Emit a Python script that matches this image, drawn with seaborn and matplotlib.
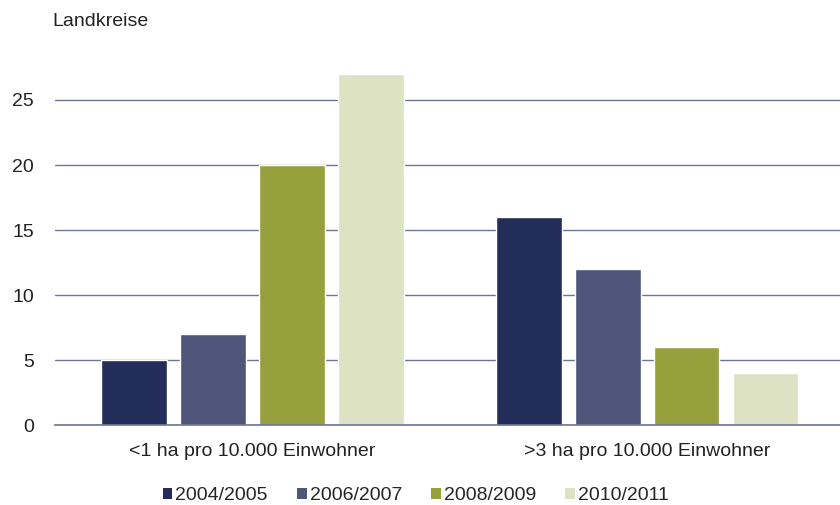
import matplotlib
matplotlib.use("Agg")
import matplotlib.pyplot as plt
import seaborn as sns
import pandas as pd
from matplotlib.ticker import FixedLocator
from matplotlib.patches import Patch

categories = ["<1 ha pro 10.000 Einwohner", ">3 ha pro 10.000 Einwohner"]
periods = ["2004/2005", "2006/2007", "2008/2009", "2010/2011"]
values = {
    "2004/2005": [5, 16],
    "2006/2007": [7, 12],
    "2008/2009": [20, 6],
    "2010/2011": [27, 4],
}
colors = ["#232D5A", "#4E5679", "#96A03C", "#DEE2C5"]
yticks = [0, 5, 10, 15, 20, 25]

rows = []
for p in periods:
    for c, v in zip(categories, values[p]):
        rows.append({"Kategorie": c, "Zeitraum": p, "Anzahl": v})
df = pd.DataFrame(rows)

sns.set_theme(style="white")
plt.rcParams["font.family"] = ["Liberation Sans", "DejaVu Sans"]

fig = plt.figure(figsize=(8.4, 5.05), dpi=100)
ax = fig.add_axes([0.0655, 0.1584, 0.940, 0.7723])

line_col = "#6E7399"
text_col = "#222222"
fs = 14

sns.barplot(data=df, x="Kategorie", y="Anzahl", hue="Zeitraum",
            hue_order=periods, order=categories, palette=colors,
            width=0.8, gap=0.17, saturation=1, errorbar=None,
            legend=False, ax=ax, zorder=3)

ax.set_xlim(-0.5, 1.5)
ax.set_ylim(0, 30)
ax.set_yticks(yticks)
ax.yaxis.grid(True, color=line_col, linewidth=1.0)
ax.set_axisbelow(True)
for s in ["top", "right", "left"]:
    ax.spines[s].set_visible(False)
ax.spines["bottom"].set_color(line_col)
ax.spines["bottom"].set_linewidth(1.2)
ax.spines["bottom"].set_zorder(4)

ax.tick_params(axis="y", length=0, labelsize=fs, pad=15, labelcolor=text_col)
ax.tick_params(axis="x", which="major", length=0, labelsize=fs, pad=13,
               labelcolor=text_col)
ax.xaxis.set_minor_locator(FixedLocator([-0.5, 0.5, 1.5]))
ax.tick_params(axis="x", which="minor", direction="in", length=5,
               color=line_col, width=1.2)
ax.set_xlabel("")
ax.set_ylabel("")

fig.text(0.062, 0.958, "Landkreise", fontsize=fs, color=text_col,
         ha="left", va="center")

handles = [Patch(facecolor=c, edgecolor="none") for c in colors]
fig.legend(handles, periods, loc="center", bbox_to_anchor=(0.495, 0.018),
           ncol=4, frameon=False, fontsize=fs, handlelength=0.5,
           handleheight=0.5, handletextpad=0.15, columnspacing=1.5,
           borderpad=0)

fig.savefig("out.png", dpi=100)
